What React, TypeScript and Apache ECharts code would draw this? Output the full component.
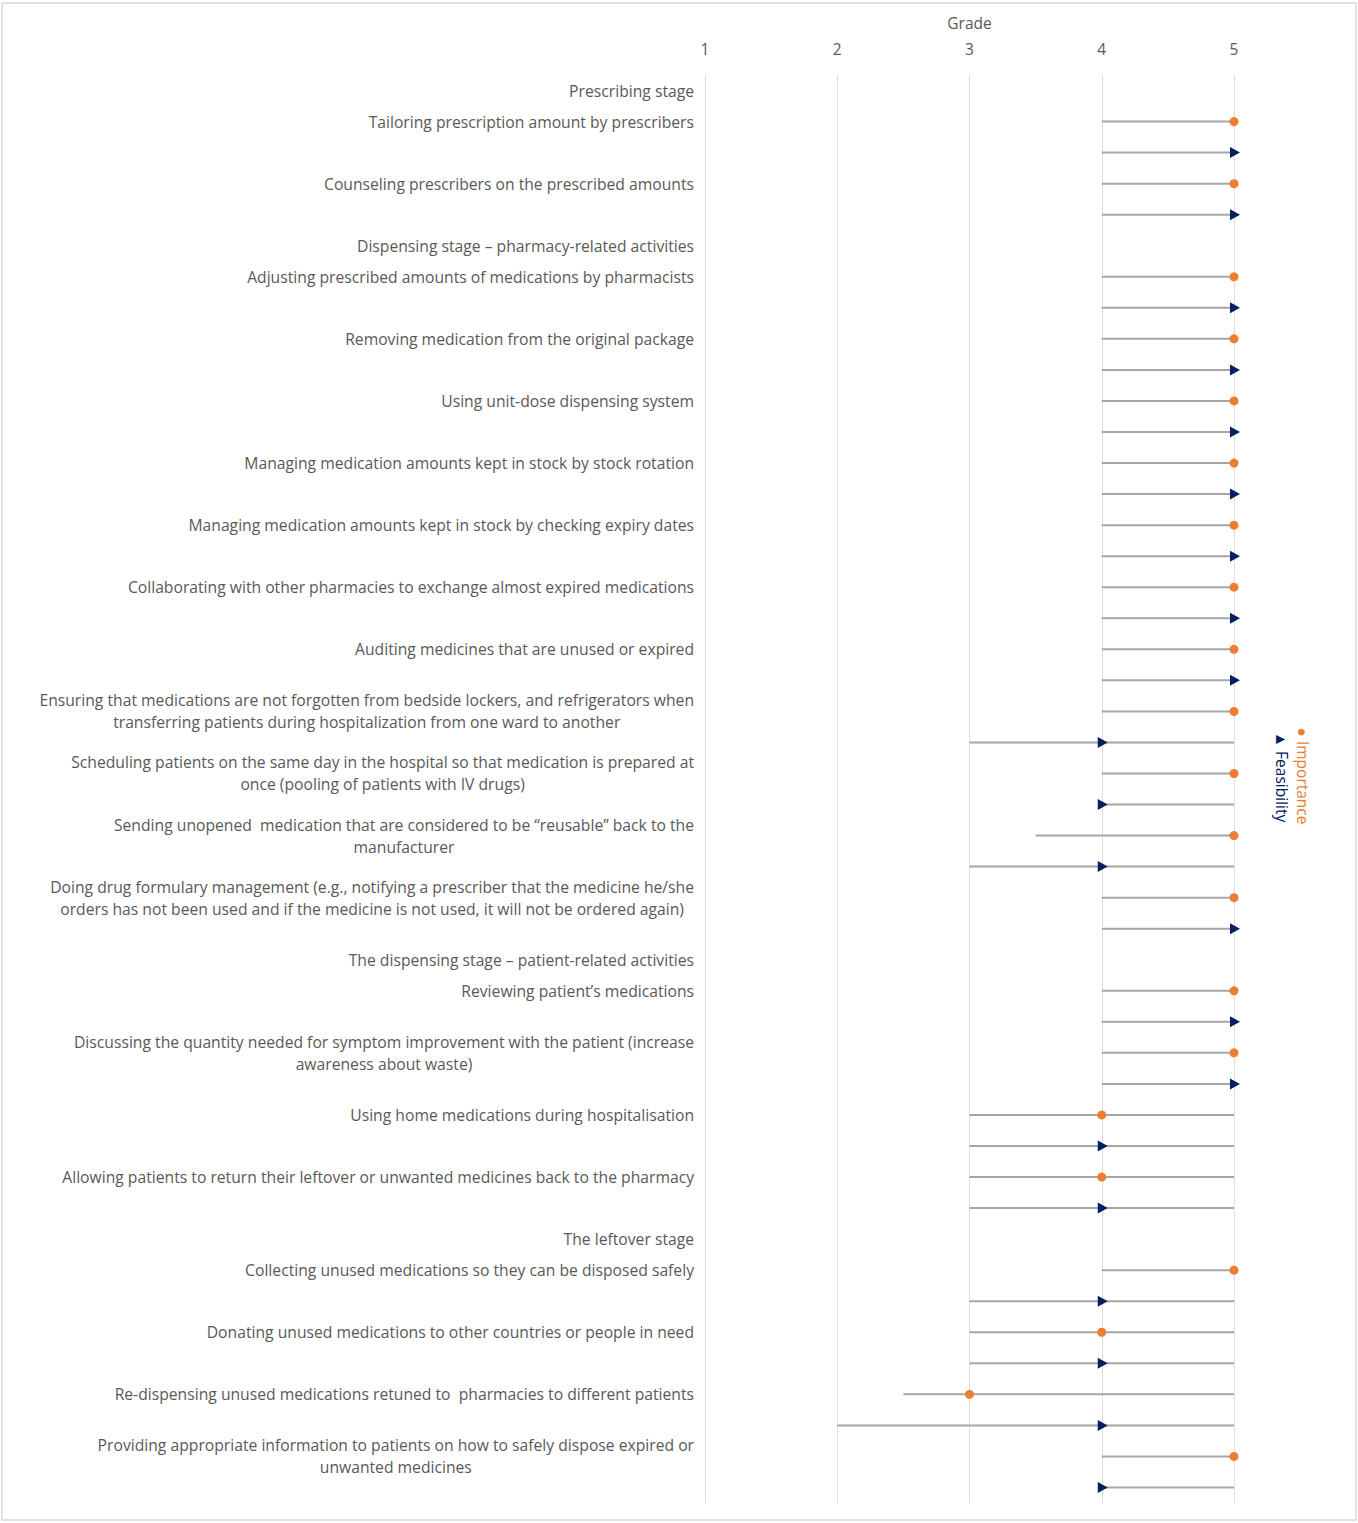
import React, { useEffect, useRef } from "react";
import * as echarts from "echarts";

const stageNames = [
  "Prescribing stage",
  "Dispensing stage – pharmacy-related activities",
  "The dispensing stage – patient-related activities",
  "The leftover stage",
];

const itemLabels = [
  "Tailoring prescription amount by prescribers",
  "Counseling prescribers on the prescribed amounts",
  "Adjusting prescribed amounts of medications by pharmacists",
  "Removing medication from the original package",
  "Using unit-dose dispensing system",
  "Managing medication amounts kept in stock by stock rotation",
  "Managing medication amounts kept in stock by checking expiry dates",
  "Collaborating with other pharmacies to exchange almost expired medications",
  "Auditing medicines that are unused or expired",
  "Ensuring that medications are not forgotten from bedside lockers, and refrigerators when\ntransferring patients during hospitalization from one ward to another",
  "Scheduling patients on the same day in the hospital so that medication is prepared at\nonce (pooling of patients with IV drugs)",
  "Sending unopened  medication that are considered to be “reusable” back to the\nmanufacturer",
  "Doing drug formulary management (e.g., notifying a prescriber that the medicine he/she\norders has not been used and if the medicine is not used, it will not be ordered again)",
  "Reviewing patient’s medications",
  "Discussing the quantity needed for symptom improvement with the patient (increase\nawareness about waste)",
  "Using home medications during hospitalisation",
  "Allowing patients to return their leftover or unwanted medicines back to the pharmacy",
  "Collecting unused medications so they can be disposed safely",
  "Donating unused medications to other countries or people in need",
  "Re-dispensing unused medications retuned to  pharmacies to different patients",
  "Providing appropriate information to patients on how to safely dispose expired or\nunwanted medicines",
];

const itemStage = [0, 0, 1, 1, 1, 1, 1, 1, 1, 1, 1, 1, 1, 2, 2, 2, 2, 3, 3, 3, 3];

const importanceMedian = [5, 5, 5, 5, 5, 5, 5, 5, 5, 5, 5, 5, 5, 5, 5, 4, 4, 5, 4, 3, 5];
const importanceLow = [4, 4, 4, 4, 4, 4, 4, 4, 4, 4, 4, 3.5, 4, 4, 4, 3, 3, 4, 3, 2.5, 4];
const importanceHigh = [5, 5, 5, 5, 5, 5, 5, 5, 5, 5, 5, 5, 5, 5, 5, 5, 5, 5, 5, 5, 5];

const feasibilityMedian = [5, 5, 5, 5, 5, 5, 5, 5, 5, 4, 4, 4, 5, 5, 5, 4, 4, 4, 4, 4, 4];
const feasibilityLow = [4, 4, 4, 4, 4, 4, 4, 4, 4, 3, 4, 3, 4, 4, 4, 3, 3, 3, 3, 2, 4];
const feasibilityHigh = [5, 5, 5, 5, 5, 5, 5, 5, 5, 5, 5, 5, 5, 5, 5, 5, 5, 5, 5, 5, 5];

const gradeTicks = [1, 2, 3, 4, 5];

const TEXT = "#595959";
const FONT = "'Open Sans', sans-serif";

export default function App() {
  const ref = useRef<HTMLDivElement>(null);

  useEffect(() => {
    if (!ref.current) return;
    const chart = echarts.init(ref.current, null, { renderer: "svg" });

    const rowLabels: string[] = [];
    const rowIds: string[] = [];
    const impRow: number[] = [];
    const feaRow: number[] = [];
    let lastStage = -1;
    itemLabels.forEach((lab, i) => {
      if (itemStage[i] !== lastStage) {
        lastStage = itemStage[i];
        rowLabels.push(stageNames[lastStage]);
        rowIds.push("r" + rowIds.length);
      }
      impRow.push(rowIds.length);
      rowLabels.push(lab);
      rowIds.push("r" + rowIds.length);
      feaRow.push(rowIds.length);
      rowLabels.push("");
      rowIds.push("r" + rowIds.length);
    });

    const rangeData: number[][] = [];
    itemLabels.forEach((_, i) => {
      rangeData.push([impRow[i], importanceLow[i], importanceHigh[i]]);
      rangeData.push([feaRow[i], feasibilityLow[i], feasibilityHigh[i]]);
    });

    const option: any = {
      animation: false,
      textStyle: { fontFamily: FONT },
      grid: { left: 705, right: 124, top: 75, bottom: 20, containLabel: false },
      xAxis: {
        type: "value",
        position: "top",
        min: gradeTicks[0],
        max: gradeTicks[gradeTicks.length - 1],
        interval: 1,
        name: "Grade",
        nameLocation: "middle",
        nameGap: 44,
        nameTextStyle: { color: TEXT, fontSize: 15.5, fontFamily: FONT },
        axisLine: { show: false },
        axisTick: { show: false },
        axisLabel: { color: TEXT, fontSize: 15.5, margin: 18, fontFamily: FONT },
        splitLine: { show: true, lineStyle: { color: "#dedede", width: 1 } },
      },
      yAxis: {
        type: "category",
        inverse: true,
        data: rowIds,
        axisLine: { show: false },
        axisTick: { show: false },
        splitLine: { show: false },
        axisLabel: {
          interval: 0,
          margin: 11,
          align: "right",
          formatter: (v: string) => {
            const idx = rowIds.indexOf(v);
            const t = rowLabels[idx] || "";
            if (!t) return "";
            return t
              .split("\n")
              .map((l) => "{c|" + l + "}")
              .join("\n");
          },
          rich: {
            c: {
              align: "center",
              color: TEXT,
              fontSize: 15.7,
              lineHeight: 22,
              fontFamily: FONT,
            },
          },
        },
      },
      series: [
        {
          type: "custom",
          name: "range",
          data: rangeData,
          encode: { x: [1, 2], y: 0 },
          z: 1,
          renderItem: (params: any, api: any) => {
            const y = api.value(0);
            const p1 = api.coord([api.value(1), y]);
            const p2 = api.coord([api.value(2), y]);
            return {
              type: "line",
              shape: { x1: p1[0], y1: p1[1], x2: p2[0], y2: p2[1] },
              style: { stroke: "#a6a6a6", lineWidth: 2 },
            };
          },
        },
        {
          type: "scatter",
          name: "Importance",
          symbol: "circle",
          symbolSize: 9,
          z: 3,
          itemStyle: { color: "#ED7D31", opacity: 1 },
          data: itemLabels.map((_, i) => [importanceMedian[i], impRow[i]]),
        },
        {
          type: "scatter",
          name: "Feasibility",
          symbol: "triangle",
          symbolSize: [11, 10],
          symbolRotate: -90,
          symbolOffset: [1, 0],
          z: 3,
          itemStyle: { color: "#002060", opacity: 1 },
          data: itemLabels.map((_, i) => [feasibilityMedian[i], feaRow[i]]),
        },
      ],
      graphic: [
        {
          type: "rect",
          shape: { x: 2, y: 3, width: 1354, height: 1517 },
          style: { fill: "none", stroke: "#d9d9d9", lineWidth: 1.5 },
          silent: true,
        },
        {
          type: "text",
          x: 1303,
          y: 776,
          rotation: -Math.PI / 2,
          style: {
            text: "● Importance",
            fill: "#ED7D31",
            font: "15.5px " + FONT,
            align: "center",
            verticalAlign: "middle",
          },
        },
        {
          type: "text",
          x: 1282,
          y: 777,
          rotation: -Math.PI / 2,
          style: {
            text: "▲ Feasibility",
            fill: "#002060",
            font: "15.5px " + FONT,
            align: "center",
            verticalAlign: "middle",
          },
        },
      ],
    };

    chart.setOption(option);
    return () => chart.dispose();
  }, []);

  return (
    <div
      ref={ref}
      style={{ position: "absolute", left: 0, top: 0, width: 1358, height: 1523, background: "#fff" }}
    />
  );
}
